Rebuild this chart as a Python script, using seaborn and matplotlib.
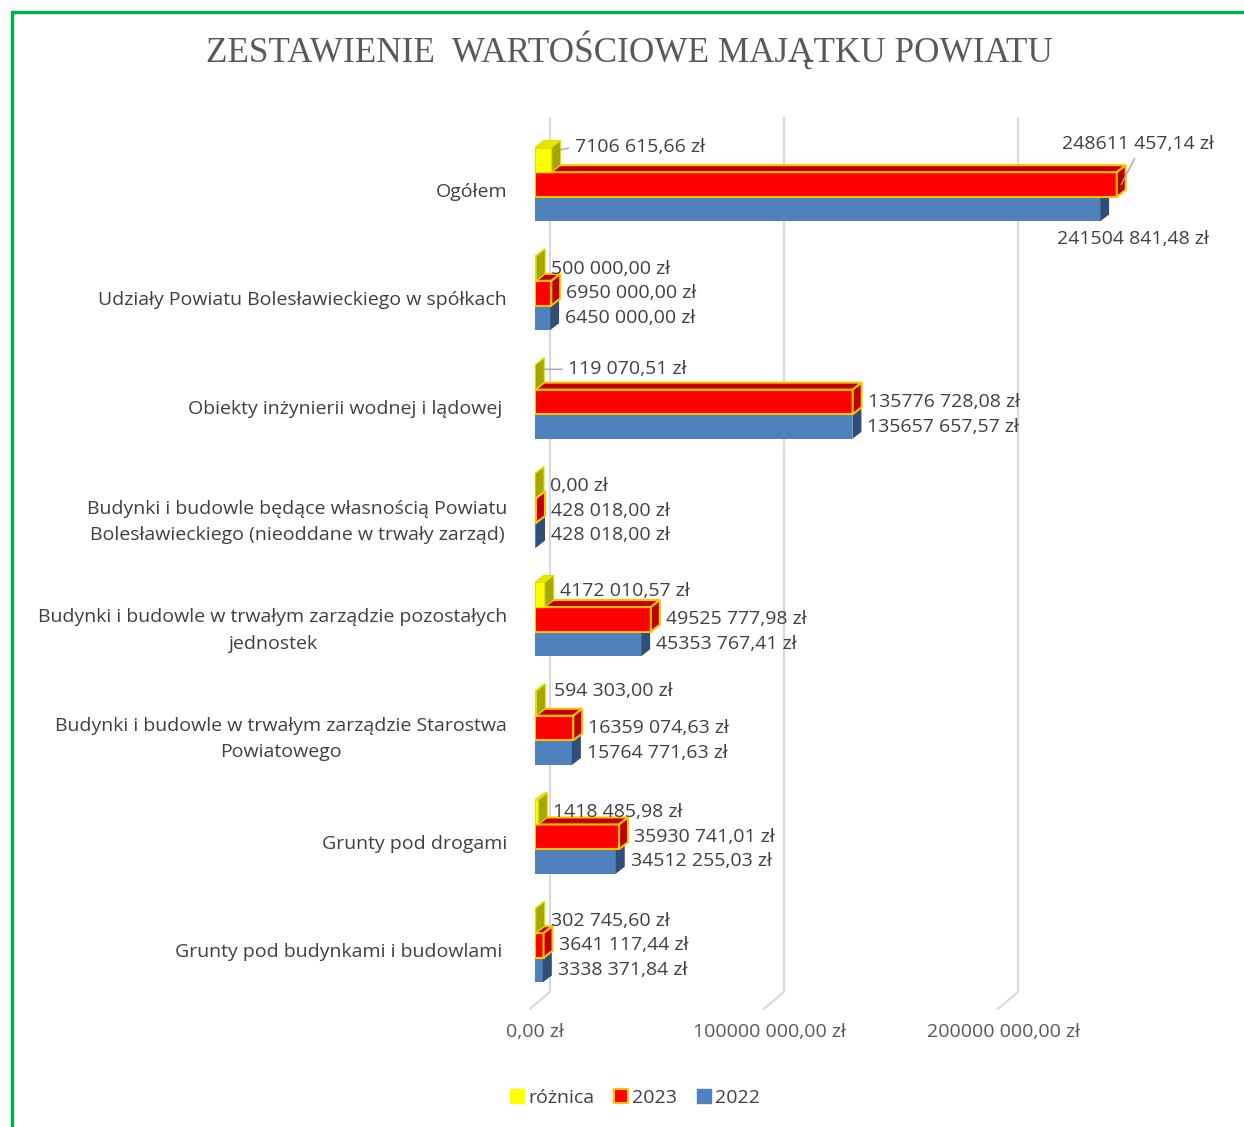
import numpy as np
import pandas as pd
import seaborn as sns
import matplotlib.pyplot as plt
from matplotlib.patches import Polygon, Patch
from matplotlib.lines import Line2D

# dane
kategorie = [
    'Ogółem',
    'Udziały Powiatu Bolesławieckiego w spółkach',
    'Obiekty inżynierii wodnej i lądowej ',
    'Budynki i budowle będące własnością Powiatu\nBolesławieckiego (nieoddane w trwały zarząd)',
    'Budynki i budowle w trwałym zarządzie pozostałych\njednostek',
    'Budynki i budowle w trwałym zarządzie Starostwa\nPowiatowego',
    'Grunty pod drogami',
    'Grunty pod budynkami i budowlami ',
]
roznica = [7106615.66, 500000.00, 119070.51, 0.00, 4172010.57, 594303.00, 1418485.98, 302745.60]
wartosci_2023 = [248611457.14, 6950000.00, 135776728.08, 428018.00, 49525777.98, 16359074.63, 35930741.01, 3641117.44]
wartosci_2022 = [241504841.48, 6450000.00, 135657657.57, 428018.00, 45353767.41, 15764771.63, 34512255.03, 3338371.84]
serie = ['różnica', '2023', '2022']
os_x = [0, 100000000, 200000000]

tytul = 'ZESTAWIENIE  WARTOŚCIOWE MAJĄTKU POWIATU'

df = pd.DataFrame({
    'kategoria': kategorie * 3,
    'seria': np.repeat(serie, len(kategorie)),
    'wartosc': roznica + wartosci_2023 + wartosci_2022,
})


def zl(v):
    grosze = int(round(v * 100))
    calosc, reszta = divmod(grosze, 100)
    if calosc >= 1000:
        s = f'{calosc // 1000} {calosc % 1000:03d}'
    else:
        s = str(calosc)
    return f'{s},{reszta:02d} zł'


# estilo
sns.set_style('white')
plt.rcParams['font.family'] = ['Open Sans', 'DejaVu Sans']

kolory = {'różnica': '#FFFF00', '2023': '#FF0000', '2022': '#4F81BD'}
boki = {'różnica': '#A6A600', '2023': '#C00000', '2022': '#2F4E78'}
gory = {'różnica': '#E6E600', '2023': '#C00000', '2022': '#3F6A9E'}
krawedz = {'różnica': '#E0E000', '2023': '#FFC000', '2022': 'none'}
warstwa = {'różnica': 5, '2023': 4, '2022': 3}

W, H = 1244, 1127
fig = plt.figure(figsize=(W / 100, H / 100), dpi=100)
ax_l, ax_r, ax_t, ax_b = 535, 535 + 608.4, 130.15, 999.85
ax = fig.add_axes([ax_l / W, 1 - ax_b / H, (ax_r - ax_l) / W, (ax_b - ax_t) / H])

sns.barplot(data=df, y='kategoria', x='wartosc', hue='seria', hue_order=serie,
            order=kategorie, palette=kolory, orient='h', width=0.68,
            saturation=1, legend=False, ax=ax)

xmax = 260e6
sx = (ax_r - ax_l) / xmax
sy = (ax_b - ax_t) / 8.0
dx, dy = 9 / sx, 7 / sy

# ejes
sns.despine(ax=ax, left=True, bottom=True)
ax.set_xlabel('')
ax.set_ylabel('')
ax.set_yticks([i + 5 / sy for i in range(len(kategorie))])
ax.set_yticklabels(kategorie, fontsize=14, color='#404040')
for lbl in ax.get_yticklabels():
    lbl.set_multialignment('center')
    lbl.set_linespacing(1.6)
ax.set_xticks(os_x)
ax.set_xticklabels([zl(v) for v in os_x], fontsize=14, color='#595959')
ax.tick_params(axis='y', length=0, pad=20)
ax.tick_params(axis='x', length=0, pad=17)
ax.grid(False)
ax.set_xlim(0, xmax)
ax.set_ylim(7.5, -0.5)

# efecto 3D
for seria, cont in zip(serie, ax.containers):
    z = warstwa[seria]
    ec = krawedz[seria]
    lw = 1.5 if seria == '2023' else 0.8
    for bar in cont:
        x0, w = bar.get_x(), bar.get_width()
        y0, h = bar.get_y(), bar.get_height()
        bar.set_zorder(z)
        bar.set_edgecolor(ec)
        bar.set_linewidth(lw)
        top = Polygon([(x0, y0), (x0 + w, y0), (x0 + w + dx, y0 - dy), (x0 + dx, y0 - dy)],
                      closed=True, fc=gory[seria], ec=ec, lw=lw, zorder=z)
        side = Polygon([(x0 + w, y0), (x0 + w, y0 + h), (x0 + w + dx, y0 + h - dy), (x0 + w + dx, y0 - dy)],
                       closed=True, fc=boki[seria], ec=ec, lw=lw, zorder=z)
        ax.add_patch(top)
        ax.add_patch(side)

# siatka
for t in os_x:
    xf, xb = t - 5 / sx, t + 15 / sx
    yf, yb, ytop = 7.5 + 9 / sy, 7.5 - 8 / sy, -0.5 - 12 / sy
    ax.plot([xf, xb, xb], [yf, yb, ytop], color='#D9D9D9', lw=1.6, zorder=0, clip_on=False)

# etykiety danych: przesuniecie tekstu (px), punkt linii odniesienia (px), relpos
przesuniecia = {
    (0, 'różnica'): (23, 13, (dx, 10), (0, 0.5)),
    (0, '2023'): (-55, 41, (dx * 0.5, 0), (0.5, 0)),
    (0, '2022'): (-43, -30, None, None),
    (2, 'różnica'): (33, 8, (dx, 8), (0, 0.5)),
    (5, 'różnica'): (18, 12, None, None),
    (4, 'różnica'): (15, 4, None, None),
}
for seria, cont in zip(serie, ax.containers):
    for i, bar in enumerate(cont):
        w = bar.get_width()
        yc = bar.get_y() + bar.get_height() / 2
        ox, oy, cel, rel = przesuniecia.get((i, seria), (15, 0, None, None))
        pos = (w + ox / sx, yc - oy / sy)
        if cel is not None:
            xy = (w + cel[0], yc - cel[1] / sy)
            ax.annotate(zl(w), xy=xy, xytext=pos, textcoords='data',
                        ha='left', va='center', fontsize=14, color='#404040', zorder=10,
                        arrowprops=dict(arrowstyle='-', color='#A6A6A6', lw=1,
                                        shrinkA=2, shrinkB=0, relpos=rel))
        else:
            ax.text(pos[0], pos[1], zl(w), ha='left', va='center', fontsize=14,
                    color='#404040', zorder=10)

# tytul
fig.text(629.5 / W, 1 - 50 / H, tytul, ha='center', va='center', fontsize=25.3,
         family='Liberation Serif', color='#595959')

# leyenda
uchwyty = [Patch(fc='#FFFF00', ec='#FFFF00'),
           Patch(fc='#FF0000', ec='#FFC000', lw=1.5),
           Patch(fc='#4F81BD', ec='#4F81BD')]
leg = fig.legend(uchwyty, serie, loc='center', bbox_to_anchor=(635 / W, 1 - 1098 / H),
                 ncol=3, frameon=False, fontsize=14, handlelength=0.75, handleheight=0.75,
                 handletextpad=0.2, columnspacing=1.0)
for tx in leg.get_texts():
    tx.set_color('#404040')

# ramka
zielony = '#00B050'
fig.add_artist(Line2D([12 / W, 12 / W], [0, 1 - 12 / H], transform=fig.transFigure,
                      color=zielony, lw=2.5))
fig.add_artist(Line2D([12 / W, 1], [1 - 12 / H, 1 - 12 / H], transform=fig.transFigure,
                      color=zielony, lw=2.5))

fig.savefig('out.png', dpi=100)
